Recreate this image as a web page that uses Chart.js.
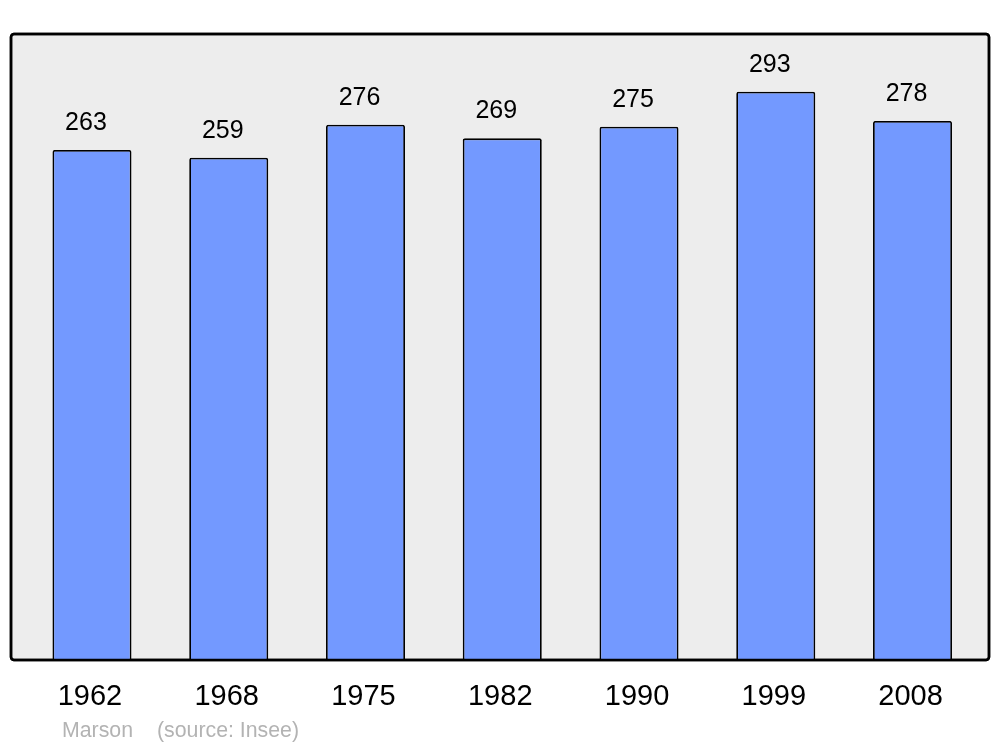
<!DOCTYPE html>
<html>
<head>
<meta charset="utf-8">
<script src="https://cdn.jsdelivr.net/npm/chart.js@4/dist/chart.umd.min.js"></script>
<style>
  html, body { margin: 0; padding: 0; background: #fff; }
  #wrap { width: 1000px; height: 747px; }
</style>
</head>
<body>
<div id="wrap"><canvas id="popChart" width="1000" height="747"></canvas></div>
<script>
// population of Marson, census years
const years = ['1962', '1968', '1975', '1982', '1990', '1999', '2008']
const population = [263, 259, 276, 269, 275, 293, 278]
const footerLabels = ['Marson', '(source: Insee)']

const FONT = '"Liberation Sans", Arial, sans-serif'

// grey rounded frame behind the bars
const framePlugin = {
    id: 'frame',
    beforeDatasetsDraw(chart) {
        const ctx = chart.ctx
        const area = chart.chartArea
        const x = 11, y = area.top, w = 978, h = area.bottom - area.top
        ctx.save()
        ctx.beginPath()
        ctx.roundRect(x, y, w, h, 3)
        ctx.fillStyle = '#ededed'
        ctx.fill()
        ctx.lineWidth = 2.5
        ctx.strokeStyle = '#000'
        ctx.stroke()
        ctx.restore()
    }
}

// value above each bar + source line at the bottom
const labelPlugin = {
    id: 'labels',
    afterDatasetsDraw(chart) {
        const ctx = chart.ctx
        const meta = chart.getDatasetMeta(0)
        ctx.save()
        ctx.font = '25px ' + FONT
        ctx.fillStyle = '#000'
        ctx.textAlign = 'center'
        ctx.textBaseline = 'middle'
        meta.data.forEach((bar, i) => {
            ctx.fillText(population[i], bar.x - 6, bar.y - 27)
        })
        // frame border again so the bar bottoms sit on it
        const area = chart.chartArea
        ctx.beginPath()
        ctx.roundRect(11, area.top, 978, area.bottom - area.top, 3)
        ctx.lineWidth = 2.5
        ctx.strokeStyle = '#000'
        ctx.stroke()

        ctx.font = '21.3px ' + FONT
        ctx.fillStyle = '#b3b3b3'
        ctx.textAlign = 'left'
        ctx.fillText(footerLabels[0], 62, 731)
        ctx.fillText(footerLabels[1], 157, 731)
        ctx.restore()
    }
}

new Chart(document.getElementById('popChart'), {
    type: 'bar',
    data: {
        labels: years,
        datasets: [{
            data: population,
            backgroundColor: '#7399ff',
            borderColor: '#000',
            borderWidth: 1.8,
            borderSkipped: 'bottom',
            borderRadius: { topLeft: 2, topRight: 2 },
            barPercentage: 0.578,
            categoryPercentage: 1.0,
        }]
    },
    options: {
        responsive: false,
        animation: false,
        devicePixelRatio: 1,
        layout: { padding: { top: 34, left: 23.6, right: 19.1, bottom: 0 } },
        plugins: {
            legend: { display: false },
            tooltip: { enabled: false },
        },
        scales: {
            x: {
                grid: { display: false, drawTicks: false },
                border: { display: false },
                ticks: {
                    color: '#000',
                    font: { size: 29, family: FONT },
                    padding: 20,
                    labelOffset: -2,
                    maxRotation: 0,
                },
                afterFit(scale) { scale.height = 87 },
            },
            y: {
                display: false,
                min: 0,
                max: 322.8,
            }
        }
    },
    plugins: [framePlugin, labelPlugin]
})
</script>
</body>
</html>
